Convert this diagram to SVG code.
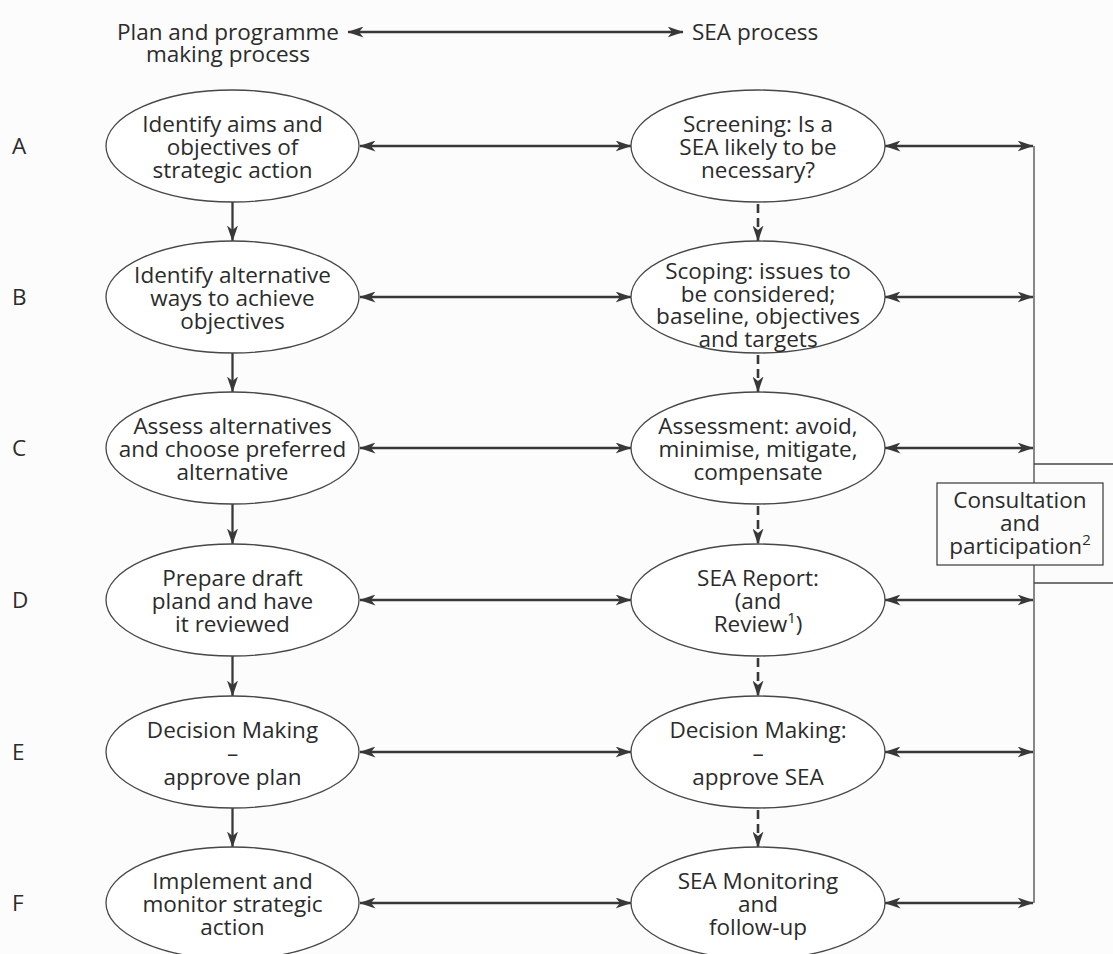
<svg xmlns="http://www.w3.org/2000/svg" width="1113" height="954" viewBox="0 0 1113 954">
  <style>
    text { font-family: "Open Sans", "Noto Sans", "Liberation Sans", sans-serif; font-size: 22.5px; fill: #2b2b2b; }
    .c { text-anchor: middle; }
    .node { fill: #ffffff; stroke: #474747; stroke-width: 1.3; }
    .flow { fill: none; stroke: #383838; stroke-width: 2.3; }
    .dash { fill: none; stroke: #383838; stroke-width: 2.6; stroke-dasharray: 9 5; }
    .thin { fill: none; stroke: #474747; stroke-width: 1.3; }
    .sup { font-size: 15px; }
  </style>
  <defs>
    <marker id="head" viewBox="0 0 16 11" markerWidth="16" markerHeight="11" refX="15.5" refY="5.5" orient="auto-start-reverse" markerUnits="userSpaceOnUse">
      <path d="M0,0 L16,5.5 L0,11 L4.5,5.5 Z" fill="#383838"/>
    </marker>
  </defs>

  <rect x="0" y="0" width="1113" height="954" fill="#fcfcfc"/>

  <!-- column headings -->
  <g id="heading-plan">
    <text class="c" x="228" y="40">Plan and programme</text>
    <text class="c" x="228" y="62">making process</text>
  </g>
  <g id="heading-sea">
    <text x="692" y="40">SEA process</text>
  </g>

  <!-- stage letters -->
  <g id="stage-letters">
    <text x="12" y="154">A</text>
    <text x="12" y="305">B</text>
    <text x="12" y="456">C</text>
    <text x="12" y="608">D</text>
    <text x="12" y="760">E</text>
    <text x="12" y="911">F</text>
  </g>

  <!-- connectors -->
  <g id="connectors">
    <line class="flow" x1="348" y1="32" x2="683" y2="32" marker-start="url(#head)" marker-end="url(#head)"/>

    <!-- plan column (solid) -->
    <line class="flow" x1="232.5" y1="202" x2="232.5" y2="241" marker-end="url(#head)"/>
    <line class="flow" x1="232.5" y1="353" x2="232.5" y2="392" marker-end="url(#head)"/>
    <line class="flow" x1="232.5" y1="504" x2="232.5" y2="544" marker-end="url(#head)"/>
    <line class="flow" x1="232.5" y1="656" x2="232.5" y2="696" marker-end="url(#head)"/>
    <line class="flow" x1="232.5" y1="808" x2="232.5" y2="847" marker-end="url(#head)"/>

    <!-- SEA column (dashed) -->
    <line class="dash" x1="758" y1="204" x2="758" y2="241" marker-end="url(#head)"/>
    <line class="dash" x1="758" y1="355" x2="758" y2="392" marker-end="url(#head)"/>
    <line class="dash" x1="758" y1="506" x2="758" y2="544" marker-end="url(#head)"/>
    <line class="dash" x1="758" y1="658" x2="758" y2="696" marker-end="url(#head)"/>
    <line class="dash" x1="758" y1="810" x2="758" y2="847" marker-end="url(#head)"/>

    <!-- plan <-> SEA -->
    <line class="flow" x1="360" y1="146" x2="631" y2="146" marker-start="url(#head)" marker-end="url(#head)"/>
    <line class="flow" x1="360" y1="297" x2="631" y2="297" marker-start="url(#head)" marker-end="url(#head)"/>
    <line class="flow" x1="360" y1="448" x2="631" y2="448" marker-start="url(#head)" marker-end="url(#head)"/>
    <line class="flow" x1="360" y1="600" x2="631" y2="600" marker-start="url(#head)" marker-end="url(#head)"/>
    <line class="flow" x1="360" y1="752" x2="631" y2="752" marker-start="url(#head)" marker-end="url(#head)"/>
    <line class="flow" x1="360" y1="903" x2="631" y2="903" marker-start="url(#head)" marker-end="url(#head)"/>

    <!-- SEA <-> consultation spine -->
    <line class="flow" x1="885" y1="146" x2="1033" y2="146" marker-start="url(#head)" marker-end="url(#head)"/>
    <line class="flow" x1="885" y1="297" x2="1033" y2="297" marker-start="url(#head)" marker-end="url(#head)"/>
    <line class="flow" x1="885" y1="448" x2="1033" y2="448" marker-start="url(#head)" marker-end="url(#head)"/>
    <line class="flow" x1="885" y1="600" x2="1033" y2="600" marker-start="url(#head)" marker-end="url(#head)"/>
    <line class="flow" x1="885" y1="752" x2="1033" y2="752" marker-start="url(#head)" marker-end="url(#head)"/>
    <line class="flow" x1="885" y1="903" x2="1033" y2="903" marker-start="url(#head)" marker-end="url(#head)"/>

    <line class="thin" x1="1034" y1="146" x2="1034" y2="903"/>
    <line class="thin" x1="1034" y1="464" x2="1113" y2="464"/>
    <line class="thin" x1="1034" y1="583" x2="1113" y2="583"/>
  </g>

  <!-- plan column nodes -->
  <g id="plan-a">
    <ellipse class="node" cx="232.5" cy="146" rx="126.5" ry="56"/>
    <text class="c" x="232.5" y="132">Identify aims and</text>
    <text class="c" x="232.5" y="155">objectives of</text>
    <text class="c" x="232.5" y="178">strategic action</text>
  </g>
  <g id="plan-b">
    <ellipse class="node" cx="232.5" cy="297" rx="126.5" ry="56"/>
    <text class="c" x="232.5" y="283">Identify alternative</text>
    <text class="c" x="232.5" y="306">ways to achieve</text>
    <text class="c" x="232.5" y="329">objectives</text>
  </g>
  <g id="plan-c">
    <ellipse class="node" cx="232.5" cy="448" rx="126.5" ry="56"/>
    <text class="c" x="232.5" y="434">Assess alternatives</text>
    <text class="c" x="232.5" y="457">and choose preferred</text>
    <text class="c" x="232.5" y="480">alternative</text>
  </g>
  <g id="plan-d">
    <ellipse class="node" cx="232.5" cy="600" rx="126.5" ry="56"/>
    <text class="c" x="232.5" y="586">Prepare draft</text>
    <text class="c" x="232.5" y="609">pland and have</text>
    <text class="c" x="232.5" y="632">it reviewed</text>
  </g>
  <g id="plan-e">
    <ellipse class="node" cx="232.5" cy="752" rx="126.5" ry="56"/>
    <text class="c" x="232.5" y="738">Decision Making</text>
    <text class="c" x="232.5" y="761">–</text>
    <text class="c" x="232.5" y="785">approve plan</text>
  </g>
  <g id="plan-f">
    <ellipse class="node" cx="232.5" cy="903" rx="126.5" ry="56"/>
    <text class="c" x="232.5" y="889">Implement and</text>
    <text class="c" x="232.5" y="912">monitor strategic</text>
    <text class="c" x="232.5" y="935">action</text>
  </g>

  <!-- SEA column nodes -->
  <g id="sea-a">
    <ellipse class="node" cx="758" cy="146" rx="127" ry="56"/>
    <text class="c" x="758" y="132">Screening: Is a</text>
    <text class="c" x="758" y="155">SEA likely to be</text>
    <text class="c" x="758" y="178">necessary?</text>
  </g>
  <g id="sea-b">
    <ellipse class="node" cx="758" cy="297" rx="127" ry="56"/>
    <text class="c" x="758" y="279">Scoping: issues to</text>
    <text class="c" x="758" y="301.5">be considered;</text>
    <text class="c" x="758" y="324">baseline, objectives</text>
    <text class="c" x="758" y="346.5">and targets</text>
  </g>
  <g id="sea-c">
    <ellipse class="node" cx="758" cy="448" rx="127" ry="56"/>
    <text class="c" x="758" y="434">Assessment: avoid,</text>
    <text class="c" x="758" y="457">minimise, mitigate,</text>
    <text class="c" x="758" y="480">compensate</text>
  </g>
  <g id="sea-d">
    <ellipse class="node" cx="758" cy="600" rx="127" ry="56"/>
    <text class="c" x="758" y="586">SEA Report:</text>
    <text class="c" x="758" y="609">(and</text>
    <text class="c" x="758" y="632">Review<tspan class="sup" dy="-9">1</tspan><tspan dy="9">)</tspan></text>
  </g>
  <g id="sea-e">
    <ellipse class="node" cx="758" cy="752" rx="127" ry="56"/>
    <text class="c" x="758" y="738">Decision Making:</text>
    <text class="c" x="758" y="761">–</text>
    <text class="c" x="758" y="785">approve SEA</text>
  </g>
  <g id="sea-f">
    <ellipse class="node" cx="758" cy="903" rx="127" ry="56"/>
    <text class="c" x="758" y="889">SEA Monitoring</text>
    <text class="c" x="758" y="912">and</text>
    <text class="c" x="758" y="935">follow-up</text>
  </g>

  <!-- consultation box -->
  <g id="consultation">
    <rect x="937" y="483" width="166" height="82" fill="#fcfcfc" stroke="#474747" stroke-width="1.3"/>
    <text class="c" x="1020" y="508">Consultation</text>
    <text class="c" x="1020" y="531">and</text>
    <text class="c" x="1020" y="554">participation<tspan class="sup" dy="-9">2</tspan></text>
  </g>
</svg>
